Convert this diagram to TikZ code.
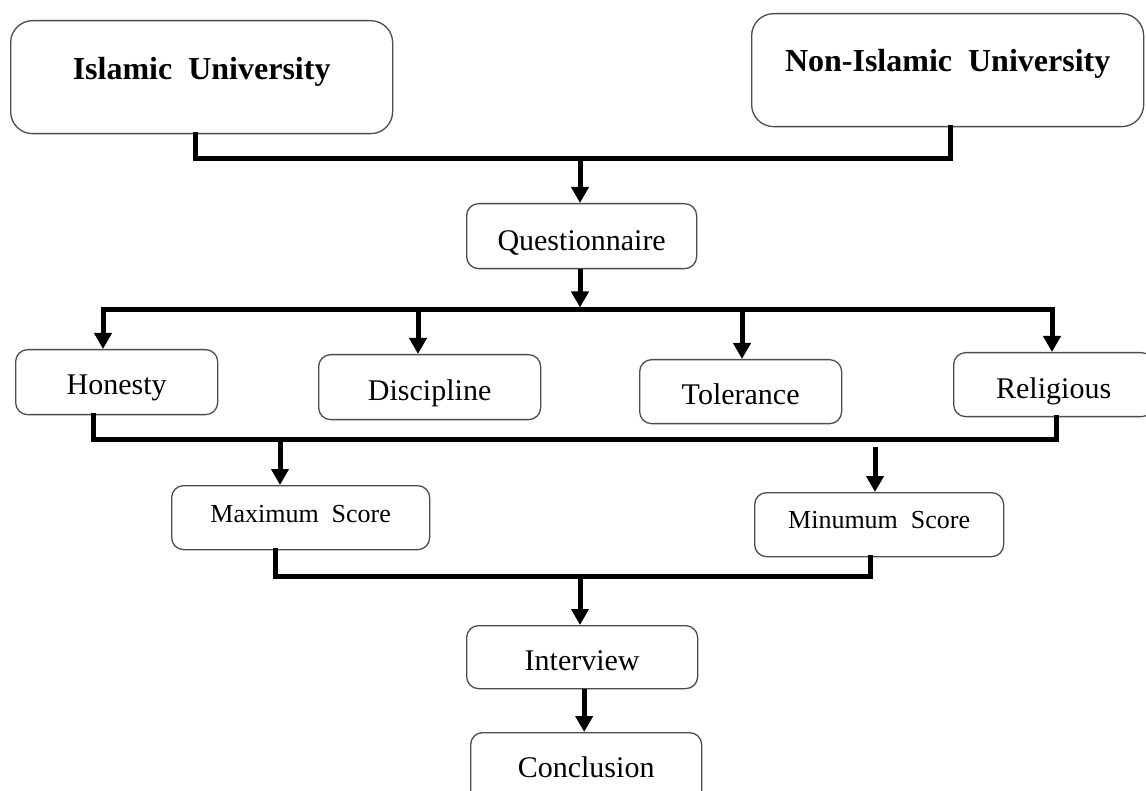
\documentclass[tikz,border=0pt]{standalone}
\usepackage{fontspec}
\setmainfont{Liberation Serif}
\usetikzlibrary{arrows.meta,calc}
\begin{document}
\begin{tikzpicture}[x=1pt,y=-1pt,
  boxnode/.style={draw=black!70,line width=1.3pt,rounded corners=12pt,fill=white,
    inner sep=0pt,anchor=north west,align=center},
  bignode/.style={boxnode,rounded corners=22pt,font=\fontsize{32}{36}\selectfont\bfseries},
  midnode/.style={boxnode,font=\fontsize{30}{34}\selectfont},
  smallnode/.style={boxnode,font=\fontsize{26}{30}\selectfont},
  conn/.style={line width=5pt,black,line cap=rect},
  arr/.style={line width=5pt,black,-{Triangle[length=16pt 0 0,width=17pt 0 0]}}]
\useasboundingbox (0,0) rectangle (1146,791);
\fill[white] (0,0) rectangle (1146,791);
\begin{scope}
\clip (0,0) rectangle (1146,791);
% nodes
\node[bignode,minimum width=382pt,text height=59pt,text depth=54pt] (isl) at (10,20) {Islamic\ \ University};
\node[bignode,minimum width=392pt,text height=58pt,text depth=55pt] (non) at (751,13) {Non-Islamic\ \ University};
\node[midnode,minimum width=230pt,text height=47pt,text depth=18pt] (q) at (466,203) {Questionnaire};
\node[midnode,minimum width=202pt,text height=45pt,text depth=20pt] (hon) at (15,349) {Honesty};
\node[midnode,minimum width=222pt,text height=46pt,text depth=19pt] (dis) at (318,354) {Discipline};
\node[midnode,minimum width=202pt,text height=45pt,text depth=19pt] (tol) at (639,359) {Tolerance};
\node[midnode,minimum width=200pt,text height=46pt,text depth=18pt] (rel) at (953,352) {Religious};
\node[smallnode,minimum width=258pt,text height=37pt,text depth=27pt] (max) at (171,485) {Maximum\ \ Score};
\node[smallnode,minimum width=249pt,text height=36pt,text depth=28pt] (min) at (754,492) {Minumum\ \ Score};
\node[midnode,minimum width=231pt,text height=45pt,text depth=18pt] (int) at (466,625) {Interview};
\node[midnode,minimum width=231pt,text height=45pt,text depth=35pt] (con) at (470,732) {Conclusion};
% junction coordinates
\coordinate (j1) at (580,159);
\coordinate (b1) at (103,310);
\coordinate (b2) at (418,310);
\coordinate (b3) at (742,310);
\coordinate (b4) at (1052,310);
\coordinate (l1) at (93,439);
\coordinate (l2) at (280,439);
\coordinate (l3) at (875,447);
\coordinate (m1) at (580,576);
% top merge
\draw[conn] ([xshift=-6pt]isl.south) |- (j1) -| ([xshift=3pt]non.south);
\draw[arr] (j1) -- (j1 |- q.north);
% questionnaire split
\draw[arr] (q.south -| j1) -- ($(j1 |- b1)+(0,-2.5)$);
\draw[conn] (b1) -- (b4);
\draw[arr] (b1) -- (b1 |- hon.north);
\draw[arr] (b2) -- (b2 |- dis.north);
\draw[arr] (b3) -- (b3 |- tol.north);
\draw[arr] (b4) -- (b4 |- rel.north);
% lower merge
\draw[conn] (l1 |- hon.south) -- (l1) -- ([xshift=3pt]rel.south |- l1) -- ([xshift=3pt]rel.south);
\draw[arr] (l2) -- (l2 |- max.north);
\draw[arr] (l3) -- (l3 |- min.north);
% bottom merge
\draw[conn] ([xshift=-25pt]max.south) |- (m1) -| ([xshift=-9pt]min.south);
\draw[arr] (m1) -- (m1 |- int.north);
\draw[arr] ([xshift=2pt]int.south) -- ([xshift=-2pt]con.north);
\end{scope}
\end{tikzpicture}
\end{document}
